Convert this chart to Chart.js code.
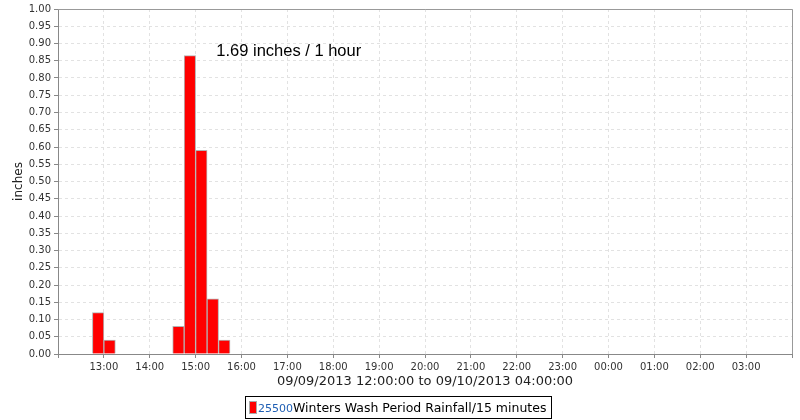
<!DOCTYPE html>
<html>
<head>
<meta charset="utf-8">
<script src="https://cdn.jsdelivr.net/npm/chart.js@4/dist/chart.umd.min.js"></script>
<style>
  body { margin: 0; background: #fff; }
  #wrap { position: relative; width: 800px; height: 420px; }
  #legend {
    position: absolute; left: 245px; top: 396px; height: 21px;
    border: 1px solid #000; padding: 0 5px 0 3px;
    font: 12.5px "DejaVu Sans", sans-serif; line-height: 21px; white-space: nowrap;
  }
  #legend .sw { display: inline-block; width: 6px; height: 11px; background: #f00;
    border: 1px solid #aaa; vertical-align: -2px; margin-right: 1px; }
  #legend .id { color: #1f5fb4; font-size: 11px; }
</style>
</head>
<body>
<div id="wrap">
  <canvas id="chart" width="800" height="420"></canvas>
  <div id="legend"><span class="sw"></span><span class="id">25500</span>Winters Wash Period Rainfall/15 minutes</div>
</div>
<script>
// 15 minute bins (start time), rainfall in inches
var binStarts = ['12:45', '13:00', '14:30', '14:45', '15:00', '15:15', '15:30'];
var rainfall = [0.12, 0.04, 0.08, 0.865, 0.59, 0.16, 0.04];
var hourLabels = ['12:00', '13:00', '14:00', '15:00', '16:00', '17:00', '18:00', '19:00',
  '20:00', '21:00', '22:00', '23:00', '00:00', '01:00', '02:00', '03:00', '04:00'];
var yTicks = [0.00, 0.05, 0.10, 0.15, 0.20, 0.25, 0.30, 0.35, 0.40, 0.45, 0.50,
  0.55, 0.60, 0.65, 0.70, 0.75, 0.80, 0.85, 0.90, 0.95, 1.00];
var note = '1.69 inches / 1 hour';

// hours after 12:00 for a "hh:mm" string
function hoursFromNoon(s) {
  var p = s.split(':');
  var h = parseInt(p[0], 10);
  if (h < 12) h += 24;
  return h - 12 + parseInt(p[1], 10) / 60;
}

var points = binStarts.map(function(t, i) {
  return { x: hoursFromNoon(t) + 0.125, y: rainfall[i] };
});

var frame = {
  id: 'frame',
  afterDraw: function(chart) {
    var a = chart.chartArea, ctx = chart.ctx;
    ctx.save();
    ctx.strokeStyle = '#999';
    ctx.lineWidth = 1;
    ctx.beginPath();
    ctx.moveTo(a.left, a.top + 0.5);
    ctx.lineTo(a.right + 0.5, a.top + 0.5);
    ctx.lineTo(a.right + 0.5, a.bottom);
    ctx.stroke();
    // text annotation
    var x = chart.scales.x.getPixelForValue(5.03);
    var y = chart.scales.y.getPixelForValue(0.877);
    ctx.fillStyle = '#000';
    ctx.font = '16.5px "Liberation Sans", Arial, sans-serif';
    ctx.textAlign = 'center';
    ctx.textBaseline = 'middle';
    ctx.fillText(note, x, y);
    ctx.restore();
  }
};

new Chart(document.getElementById('chart'), {
  type: 'bar',
  data: {
    datasets: [{
      label: 'Winters Wash Period Rainfall/15 minutes',
      data: points,
      backgroundColor: '#ff0000',
      borderColor: '#b4b4b4',
      borderWidth: 1,
      barPercentage: 1,
      categoryPercentage: 1
    }]
  },
  options: {
    responsive: false,
    animation: false,
    layout: { padding: { top: 5, right: 8, bottom: 28, left: 0 } },
    plugins: { legend: { display: false }, tooltip: { enabled: false } },
    scales: {
      x: {
        type: 'linear',
        min: 0,
        max: 16,
        offset: false,
        afterFit: function(scale) { scale.height = 38; },
        afterBuildTicks: function(scale) {
          scale.ticks = hourLabels.map(function(l, i) { return { value: i }; });
        },
        ticks: {
          autoSkip: false,
          maxRotation: 0,
          padding: 3,
          color: '#333',
          font: { family: 'DejaVu Sans', size: 10 },
          callback: function(v) {
            return (v === 0 || v === 16) ? '' : hourLabels[v];
          }
        },
        grid: { offset: false, color: '#e2e2e2', tickColor: '#888', tickLength: 4, tickBorderDash: [] },
        border: { color: '#888', dash: [3, 3] },
        title: {
          display: true,
          text: '09/09/2013 12:00:00 to 09/10/2013 04:00:00',
          color: '#222',
          font: { family: 'DejaVu Sans', size: 13 },
          padding: { top: 0, bottom: 3 }
        }
      },
      y: {
        min: 0,
        max: 1,
        afterFit: function(scale) { scale.width = 58; },
        afterBuildTicks: function(scale) {
          scale.ticks = yTicks.map(function(v) { return { value: v }; });
        },
        ticks: {
          padding: 3,
          color: '#333',
          font: { family: 'DejaVu Sans', size: 10 },
          callback: function(v) { return v.toFixed(2); }
        },
        grid: { color: '#e2e2e2', tickColor: '#888', tickLength: 4, tickBorderDash: [] },
        border: { color: '#888', dash: [3, 3] },
        title: {
          display: true,
          text: 'inches',
          color: '#222',
          font: { family: 'DejaVu Sans', size: 12 },
          padding: { top: 12, bottom: 2 }
        }
      }
    }
  },
  plugins: [frame]
});
</script>
</body>
</html>
